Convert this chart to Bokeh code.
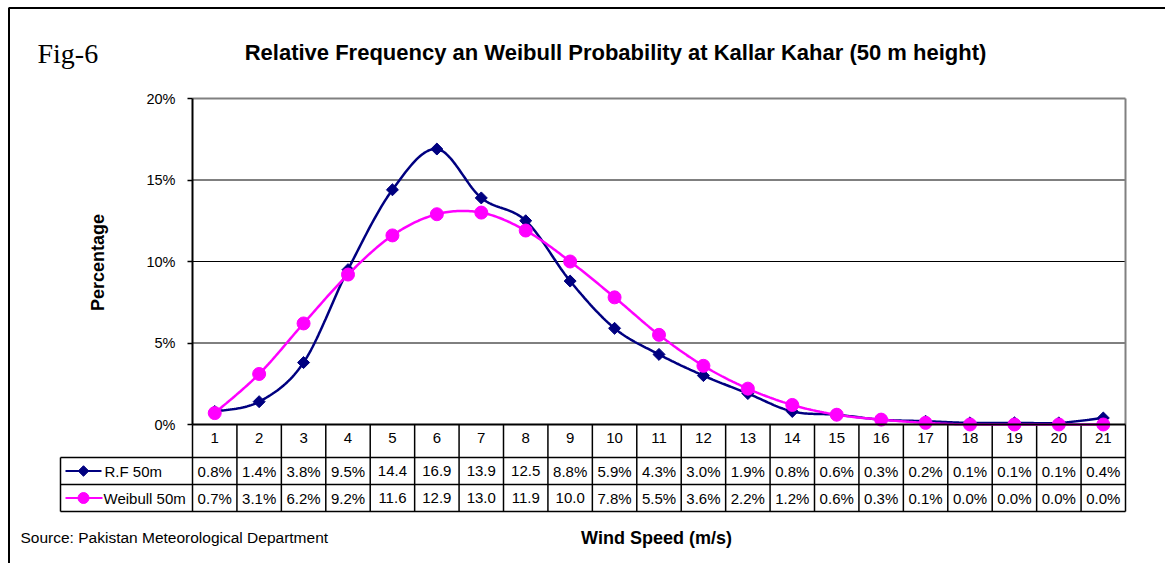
import numpy as np
from bokeh.plotting import figure
from bokeh.models import Range1d, LinearAxis, FixedTicker, PrintfTickFormatter
from bokeh.core.properties import value
from bokeh.embed import file_html
from bokeh.resources import INLINE

# ---------------- data ----------------
wind_speed = list(range(1, 22))
rf_50m = [0.8, 1.4, 3.8, 9.5, 14.4, 16.9, 13.9, 12.5, 8.8, 5.9, 4.3, 3.0,
          1.9, 0.8, 0.6, 0.3, 0.2, 0.1, 0.1, 0.1, 0.4]
weibull_50m = [0.7, 3.1, 6.2, 9.2, 11.6, 12.9, 13.0, 11.9, 10.0, 7.8, 5.5, 3.6,
               2.2, 1.2, 0.6, 0.3, 0.1, 0.0, 0.0, 0.0, 0.0]
y_ticks = [0, 5, 10, 15, 20]
series_names = ["R.F 50m", "Weibull 50m"]
title_text = "Relative Frequency an Weibull Probability at Kallar Kahar (50 m height)"

# ---------------- layout (image pixel anchors) ----------------
W, H = 1165, 563
OFF = 0
PLOT_L, PLOT_R, PLOT_T, PLOT_B = 192, 1125, 98, 424
NCAT = len(wind_speed)
YMAX = y_ticks[-1]
CW = (PLOT_R - PLOT_L) / NCAT
RH = (PLOT_B - PLOT_T) / YMAX


def X(px):
    return 0.5 + (px - PLOT_L) / CW


def Y(py):
    return (PLOT_B - py) / RH


ROW_TOPS = [424, 457, 484, 511]  # header, row1, row2, bottom
LEG_L = 60

NAVY = "#000080"
MAG = "#FF00FF"
FONT = value("Liberation Sans")

p = figure(width=W, height=H, x_range=Range1d(X(OFF), X(OFF + W)),
           y_range=Range1d(Y(OFF + H), Y(OFF)), x_axis_type=None, y_axis_type=None,
           title=None, toolbar_location=None, output_backend="svg",
           min_border=0, min_border_left=0, min_border_right=0,
           min_border_top=0, min_border_bottom=0)
p.outline_line_color = None
p.background_fill_color = "white"
p.border_fill_color = "white"

# outer frame (left and top)
p.segment(x0=[X(8.5), X(8)], y0=[Y(OFF + H), Y(7.5)], x1=[X(8.5), X(OFF + W)], y1=[Y(7.5), Y(7.5)],
          line_color="black", line_width=2)

# grid lines
x_lo, x_hi = 0.5, NCAT + 0.5
grid_vals = y_ticks[1:-1]
p.segment(x0=[x_lo] * len(grid_vals), y0=grid_vals, x1=[x_hi] * len(grid_vals), y1=grid_vals,
          line_color="black", line_width=1)
# plot area top / right border (gray)
p.segment(x0=[x_lo, x_hi], y0=[YMAX, 0], x1=[x_hi, x_hi], y1=[YMAX, YMAX],
          line_color="#808080", line_width=2)

# ---------------- data table ----------------
y_rows = [Y(v) for v in ROW_TOPS]
# horizontal lines
p.segment(x0=[X(LEG_L)] * 3, y0=y_rows[1:], x1=[x_hi] * 3, y1=y_rows[1:],
          line_color="black", line_width=1.5)
# vertical lines
vx = [k + 0.5 for k in range(NCAT + 1)]
p.segment(x0=vx, y0=[0] * len(vx), x1=vx, y1=[y_rows[-1]] * len(vx),
          line_color="black", line_width=1.5)
p.segment(x0=[X(LEG_L)], y0=[y_rows[1]], x1=[X(LEG_L)], y1=[y_rows[-1]],
          line_color="black", line_width=1.5)

row_c = [Y((ROW_TOPS[i] + ROW_TOPS[i + 1]) / 2) for i in (1, 2)]


def cell(v):
    return ("%.1f%%" % v)[:4]


p.text(x=wind_speed, y=[row_c[0]] * NCAT, text=[cell(v) for v in rf_50m],
       text_font=FONT, text_font_size="15px", text_align="center",
       text_baseline="middle", text_color="black")
p.text(x=wind_speed, y=[row_c[1]] * NCAT, text=[cell(v) for v in weibull_50m],
       text_font=FONT, text_font_size="15px", text_align="center",
       text_baseline="middle", text_color="black")

# legend keys in table
p.segment(x0=[X(65), X(65)], y0=row_c, x1=[X(101), X(102)], y1=row_c,
          line_color=[NAVY, MAG], line_width=2)
p.scatter(x=[X(83)], y=[row_c[0]], marker="square", angle=np.pi / 4, size=7.5, color=NAVY)
p.scatter(x=[X(83)], y=[row_c[1]], marker="circle", size=11, color=MAG)
p.text(x=[X(104), X(103)], y=row_c, text=series_names, text_font=FONT,
       text_font_size="15px", text_align="left", text_baseline="middle",
       text_color="black")


# ---------------- smoothed series ----------------
def smooth(xs, ys, n=24):
    P = np.column_stack([xs, ys]).astype(float)
    out = []
    m = len(P)
    for i in range(m - 1):
        p0 = P[i - 1] if i > 0 else P[i]
        p1, p2 = P[i], P[i + 1]
        p3 = P[i + 2] if i + 2 < m else P[i + 1]
        c1 = p1 + (p2 - p0) / 6.0
        c2 = p2 - (p3 - p1) / 6.0
        t = np.linspace(0, 1, n, endpoint=(i == m - 2))[:, None]
        seg = ((1 - t) ** 3) * p1 + 3 * ((1 - t) ** 2) * t * c1 + 3 * (1 - t) * t ** 2 * c2 + t ** 3 * p2
        out.append(seg)
    out = np.vstack(out)
    return out[:, 0], out[:, 1]


sx, sy = smooth(wind_speed, rf_50m)
p.line(sx, sy, line_color=NAVY, line_width=2.5)
p.scatter(wind_speed, rf_50m, marker="square", angle=np.pi / 4, size=8.5, color=NAVY)

wx, wy = smooth(wind_speed, weibull_50m)
p.line(wx, wy, line_color=MAG, line_width=2.5)
p.scatter(wind_speed, weibull_50m, marker="circle", size=13, color=MAG)

# ---------------- axes ----------------
yax = LinearAxis(fixed_location=0.5, bounds=(0, YMAX), ticker=FixedTicker(ticks=y_ticks),
                 formatter=PrintfTickFormatter(format="%d%%"))
yax.axis_line_color = "black"
yax.axis_line_width = 2
yax.major_tick_line_color = "black"
yax.major_tick_line_width = 1.5
yax.major_tick_out = 5
yax.major_tick_in = 0
yax.minor_tick_out = 0
yax.minor_tick_in = 0
yax.major_label_standoff = 12
yax.major_label_text_font = "Liberation Sans"
yax.major_label_text_font_size = "14.5px"
yax.major_label_text_color = "black"
p.add_layout(yax, "left")

xax = LinearAxis(fixed_location=0, bounds=(x_lo, x_hi), ticker=FixedTicker(ticks=wind_speed))
xax.axis_line_color = "black"
xax.axis_line_width = 2
xax.major_tick_out = 0
xax.major_tick_in = 0
xax.minor_tick_out = 0
xax.minor_tick_in = 0
xax.major_label_standoff = 8
xax.major_label_text_font = "Liberation Sans"
xax.major_label_text_font_size = "15px"
xax.major_label_text_color = "black"
p.add_layout(xax, "below")

# ---------------- texts ----------------
p.text(x=[X(37)], y=[Y(53)], text=["Fig-6"], text_font=value("Liberation Serif"),
       text_font_size="28px", text_align="left", text_baseline="alphabetic", text_color="black")
p.text(x=[X(615)], y=[Y(52)], text=[title_text], text_font=FONT, text_font_style="bold",
       text_font_size="22px", text_align="center", text_baseline="alphabetic", text_color="black")
p.text(x=[X(97)], y=[Y(262)], text=["Percentage"], text_font=FONT, text_font_style="bold",
       text_font_size="18px", text_align="center", text_baseline="middle", angle=np.pi / 2,
       text_color="black")
p.text(x=[X(656)], y=[Y(537)], text=["Wind Speed (m/s)"], text_font=FONT, text_font_style="bold",
       text_font_size="18px", text_align="center", text_baseline="middle", text_color="black")
p.text(x=[X(20)], y=[Y(537)], text=["Source: Pakistan Meteorological Department"], text_font=FONT,
       text_font_size="15.5px", text_align="left", text_baseline="middle", text_color="black")

open("out.html", "w").write(file_html(p, INLINE))
